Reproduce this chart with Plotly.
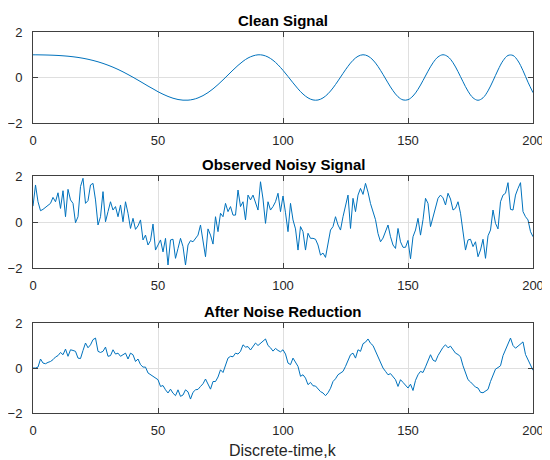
import plotly.graph_objects as go

# ---------------- data ----------------
k = list(range(201))
k_clean = list(range(0, 201, 2))

clean = [
    0.998, 0.996, 0.992, 0.987, 0.979, 0.969, 0.954, 0.936, 0.912, 0.882,
    0.846, 0.802, 0.750, 0.690, 0.620, 0.541, 0.453, 0.355, 0.248, 0.132,
    0.011, -0.116, -0.245, -0.376, -0.498, -0.625, -0.735, -0.832, -0.911, -0.967,
    -0.996, -0.996, -0.964, -0.897, -0.797, -0.663, -0.500, -0.311, -0.105, 0.111,
    0.327, 0.531, 0.712, 0.857, 0.950, 0.998, 0.981, 0.900, 0.757, 0.558,
    0.315, 0.045, -0.234, -0.499, -0.727, -0.895, -0.987, -0.989, -0.897, -0.716,
    -0.459, -0.150, 0.179, 0.493, 0.756, 0.933, 1.000, 0.943, 0.766, 0.485,
    0.135, -0.237, -0.580, -0.846, -0.985, -0.976, -0.813, -0.518, -0.133, 0.278,
    0.646, 0.903, 1.000, 0.912, 0.650, 0.259, -0.186, -0.600, -0.892, -1.000,
    -0.893, -0.588, -0.148, 0.330, 0.735, 0.969, 0.969, 0.728, 0.301, -0.207,
    -0.667,
]

noisy = [
    0.69, 1.61, 0.88, 0.49, 0.55, 0.64, 0.72, 0.81, 1.07, 0.88,
    1.27, 0.59, 1.36, 0.23, 1.42, 0.96, 0.81, -0.03, 0.23, 1.54,
    1.90, 0.81, 0.93, 1.61, 1.68, 0.96, -0.13, 0.23, 1.32, 0.01,
    0.45, 0.88, 0.52, 0.67, 0.23, 0.74, 0.01, 0.88, 0.38, -0.28,
    0.16, -0.32, -0.17, 0.09, -0.78, -0.57, -1.00, -0.81, -0.09, -1.22,
    -1.00, -0.78, -1.30, -0.71, -1.87, -0.78, -0.75, -1.58, -1.15, -0.71,
    -1.07, -1.87, -1.00, -0.81, -0.86, -0.71, -0.57, -0.13, -0.86, -1.51,
    -0.30, -0.57, -0.96, 0.23, -0.42, 0.38, 0.23, 0.81, 0.45, 0.67,
    0.30, 0.30, 1.39, 0.67, 0.88, 0.09, 1.17, 0.96, 1.17, 0.88,
    0.52, 1.75, 1.00, -0.06, 0.88, 0.52, 0.67, 0.88, 1.25, 0.45,
    1.13, 0.40, -0.42, 0.81, 0.09, -0.30, -1.22, -0.20, -0.42, -1.22,
    -0.49, -0.71, -0.71, -0.75, -1.00, -1.44, -1.35, -1.54, -1.00, -0.35,
    -0.20, 0.23, -0.13, -0.35, 0.23, 0.67, 1.17, -0.28, 1.03, 0.45,
    1.17, 1.46, 1.20, 1.68, 1.30, 0.80, 0.40, 0.10, -0.50, -0.86,
    -0.70, -0.40, -0.13, -0.64, -1.00, -1.15, -0.28, -0.86, -1.10, -1.10,
    -0.80, -1.60, -0.64, -0.35, 0.16, -0.57, 0.10, 1.03, 0.81, -0.20,
    0.20, 0.70, 1.03, 1.17, 1.05, 0.74, 1.25, 1.00, 0.52, 0.60,
    0.88, 0.38, -0.40, -1.22, -0.78, -0.75, -1.07, -0.86, -1.51, -1.22,
    -0.75, -1.58, -0.60, -0.35, 0.52, -0.06, -0.30, 0.88, 1.17, 1.25,
    1.71, 0.55, 0.52, 1.17, 1.46, 1.71, 0.45, 0.23, 0.09, -0.42,
    -0.64,
]

denoised = [
    0.00, 0.00, 0.04, 0.40, 0.22, 0.19, 0.25, 0.29, 0.37, 0.49,
    0.55, 0.69, 0.59, 0.84, 0.52, 0.81, 0.78, 0.74, 0.44, 0.42,
    0.78, 1.11, 0.90, 1.03, 1.26, 1.33, 0.74, 0.69, 0.74, 0.93,
    0.52, 0.55, 0.81, 0.62, 0.66, 0.52, 0.59, 0.66, 0.40, 0.66,
    0.59, 0.29, 0.40, 0.15, 0.04, 0.04, -0.22, -0.30, -0.40, -0.45,
    -0.52, -0.82, -0.78, -0.97, -1.11, -0.94, -1.12, -1.23, -0.97, -1.26,
    -1.20, -0.97, -1.06, -1.38, -1.08, -0.97, -0.95, -0.82, -0.70, -0.49,
    -0.75, -0.94, -0.60, -0.60, -0.40, -0.08, -0.20, 0.15, 0.44, 0.52,
    0.50, 0.66, 0.62, 0.74, 1.03, 0.93, 0.95, 0.80, 0.97, 1.11,
    1.00, 1.11, 1.18, 1.29, 1.00, 0.90, 0.75, 0.87, 0.78, 0.72,
    0.81, 0.62, 0.22, 0.15, 0.44, 0.22, 0.07, -0.37, -0.30, -0.45,
    -0.74, -0.64, -0.79, -0.80, -0.95, -1.05, -1.11, -1.23, -1.10, -0.90,
    -0.60, -0.48, -0.30, -0.22, -0.15, 0.07, 0.37, 0.59, 0.66, 0.44,
    0.81, 0.74, 1.08, 1.15, 1.29, 1.10, 1.00, 0.75, 0.50, 0.20,
    0.00, -0.15, -0.30, -0.25, -0.37, -0.52, -0.82, -0.52, -0.64, -0.79,
    -0.89, -0.72, -1.00, -0.55, -0.30, -0.15, -0.20, 0.05, 0.30, 0.59,
    0.35, 0.29, 0.55, 0.74, 0.92, 1.03, 0.90, 0.97, 0.80, 0.66,
    0.60, 0.50, 0.10, -0.25, -0.52, -0.62, -0.72, -0.85, -0.89, -1.08,
    -1.10, -1.04, -0.95, -0.60, -0.35, -0.05, 0.02, 0.10, 0.55, 0.84,
    1.05, 1.33, 1.00, 0.88, 0.97, 1.05, 1.16, 0.60, 0.37, 0.15,
    -0.10,
]

titles = ["Clean Signal", "Observed Noisy Signal", "After Noise Reduction"]
x_ticks = [0, 50, 100, 150, 200]
y_ticks = [-2, 0, 2]
x_label = "Discrete-time,k"

# ---------------- layout ----------------
# The page body has an 8 px margin, so the figure is 8 px smaller and
# every position below is measured in page pixels minus that offset.
OFF = 8
W, H = 550 - OFF, 460 - OFF

def py(p):
    return 1 - (p - OFF) / H

def px(p):
    return (p - OFF) / W

panels_px = [(32, 123), (176, 268), (323, 413)]
x_dom = [px(33), px(533)]
FONT = "Liberation Sans, Arial, Helvetica, sans-serif"
LINE_COLOR = "#0072BD"

fig = go.Figure()
layout = {}
annotations = []
series = [(k_clean, clean), (k, noisy), (k, denoised)]

for i, ((xs, ys), (top, bot)) in enumerate(zip(series, panels_px)):
    n = "" if i == 0 else str(i + 1)
    fig.add_trace(go.Scatter(
        x=xs, y=ys, mode="lines",
        line=dict(color=LINE_COLOR, width=1, shape="spline" if i == 0 else "linear"),
        xaxis="x" + n, yaxis="y" + n, showlegend=False, hoverinfo="skip",
    ))
    common = dict(
        showline=True, linecolor="#404040", linewidth=1, mirror="ticks",
        ticks="inside", ticklen=5, tickcolor="#404040", tickwidth=1,
        showgrid=True, gridcolor="#dfdfdf", gridwidth=1, zeroline=False,
        tickfont=dict(family=FONT, size=13, color="#262626"),
        fixedrange=True, automargin=False,
    )
    layout["xaxis" + n] = dict(domain=x_dom, range=[0, 200], tickvals=x_ticks,
                               anchor="y" + n, ticklabelstandoff=5, **common)
    layout["yaxis" + n] = dict(domain=[py(bot), py(top)], range=[-2, 2],
                               tickvals=y_ticks, anchor="x" + n,
                               ticklabelstandoff=7, **common)
    annotations.append(dict(
        text="<b>" + titles[i] + "</b>", x=(x_dom[0] + x_dom[1]) / 2,
        y=py(top - 12), xref="paper", yref="paper", showarrow=False,
        xanchor="center", yanchor="middle",
        font=dict(family=FONT, size=15, color="#000000"),
    ))

annotations.append(dict(
    text=x_label, x=(x_dom[0] + x_dom[1]) / 2, y=py(450), xref="paper", yref="paper",
    showarrow=False, xanchor="center", yanchor="middle",
    font=dict(family=FONT, size=16, color="#262626"),
))

fig.update_layout(
    width=W, height=H, margin=dict(l=0, r=0, t=0, b=0, autoexpand=False),
    paper_bgcolor="white", plot_bgcolor="white",
    annotations=annotations, **layout,
)

fig.write_html("out.html")
